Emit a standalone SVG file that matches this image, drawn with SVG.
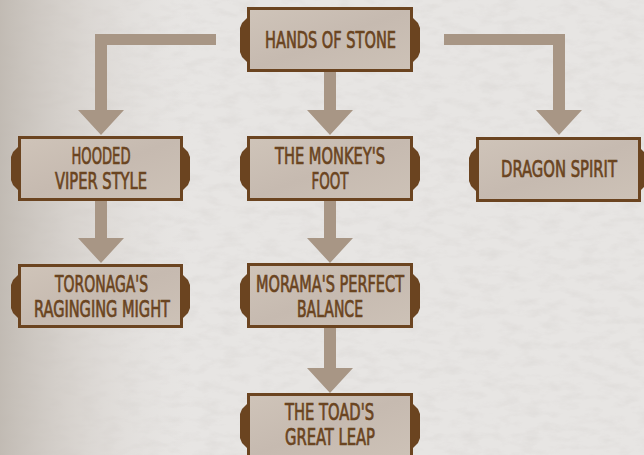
<svg xmlns="http://www.w3.org/2000/svg" width="644" height="455" viewBox="0 0 644 455">
  <defs>
    <linearGradient id="bgl" x1="0" y1="0" x2="1" y2="0">
      <stop offset="0" stop-color="#bdb6ae" stop-opacity="0.9"/>
      <stop offset="0.12" stop-color="#cfc9c3" stop-opacity="0.6"/>
      <stop offset="0.3" stop-color="#e2dfdc" stop-opacity="0"/>
    </linearGradient>
    <linearGradient id="boxg" x1="0" y1="0" x2="1" y2="1">
      <stop offset="0" stop-color="#cfc4b9"/>
      <stop offset="0.5" stop-color="#c6bab0"/>
      <stop offset="1" stop-color="#cdc2b7"/>
    </linearGradient>
    <filter id="noise" x="0" y="0" width="100%" height="100%">
      <feTurbulence type="fractalNoise" baseFrequency="0.05 0.12" numOctaves="4" seed="3"/>
      <feColorMatrix type="matrix" values="0 0 0 0 0.55  0 0 0 0 0.52  0 0 0 0 0.5  0 0 0 -1.3 0.75"/>
    </filter>
    <style>
      .box { fill: url(#boxg); stroke: #6b4420; stroke-width: 3; }
      .tab { fill: #6b4420; }
      .lbl { font-family: "DejaVu Sans Condensed", "DejaVu Sans", "Liberation Sans", sans-serif; font-weight: normal; font-size: 23px; fill: #6a4420; stroke: #6a4420; stroke-width: 0.7; text-anchor: middle; }
      .arrow { fill: #a89685; }
    </style>
  </defs>

  <rect x="0" y="0" width="644" height="455" fill="#e7e5e3"/>
  <rect x="0" y="0" width="644" height="455" filter="url(#noise)" opacity="0.3"/>
  <rect x="0" y="0" width="644" height="455" fill="url(#bgl)"/>

  <g id="connectors">
    <path class="arrow" d="M216,34 H95 V110 H78 L101,135 L124,110 H107 V45 H216 Z"/>
    <path class="arrow" d="M444,34 H565 V110 H582 L559,135 L536,110 H553 V45 H444 Z"/>
    <path class="arrow" d="M324,72 H336 V110 H353 L330,135 L307,110 H324 Z"/>
    <path class="arrow" d="M95,200 H107 V238 H124 L101,263 L78,238 H95 Z"/>
    <path class="arrow" d="M324,200 H336 V238 H353 L330,263 L307,238 H324 Z"/>
    <path class="arrow" d="M324,328 H336 V368 H353 L330,393 L307,368 H324 Z"/>
  </g>

  <g id="hands-of-stone">
    <polygon class="tab" points="247,18 242,23 240,28 240,52 242,57 247,62"/>
    <polygon class="tab" points="413,18 418,23 420,28 420,52 418,57 413,62"/>
    <rect class="box" x="248.5" y="8.5" width="163" height="62"/>
    <text class="lbl" x="330.5" y="48" textLength="131" lengthAdjust="spacingAndGlyphs">HANDS OF STONE</text>
  </g>

  <g id="hooded-viper-style">
    <polygon class="tab" points="18,147 13,152 11,157 11,180 13,185 18,190"/>
    <polygon class="tab" points="183,147 188,152 190,157 190,180 188,185 183,190"/>
    <rect class="box" x="19.5" y="137.5" width="162" height="62"/>
    <text class="lbl" x="101" y="164" textLength="59" lengthAdjust="spacingAndGlyphs">HOODED</text>
    <text class="lbl" x="101" y="189" textLength="92" lengthAdjust="spacingAndGlyphs">VIPER STYLE</text>
  </g>

  <g id="the-monkeys-foot">
    <polygon class="tab" points="247,147 242,152 240,157 240,180 242,185 247,190"/>
    <polygon class="tab" points="413,147 418,152 420,157 420,180 418,185 413,190"/>
    <rect class="box" x="248.5" y="137.5" width="163" height="62"/>
    <text class="lbl" x="330" y="164" textLength="110" lengthAdjust="spacingAndGlyphs">THE MONKEY'S</text>
    <text class="lbl" x="330" y="189" textLength="37" lengthAdjust="spacingAndGlyphs">FOOT</text>
  </g>

  <g id="dragon-spirit">
    <polygon class="tab" points="476,148 471,153 469,158 469,181 471,186 476,191"/>
    <polygon class="tab" points="640,148 644,152 644,187 640,191"/>
    <rect class="box" x="477.5" y="138.5" width="162" height="62"/>
    <text class="lbl" x="617" y="177" style="text-anchor:end" textLength="116" lengthAdjust="spacingAndGlyphs">DRAGON SPIRIT</text>
  </g>

  <g id="toronagas-raginging-might">
    <polygon class="tab" points="18,275 13,280 11,285 11,308 13,313 18,318"/>
    <polygon class="tab" points="183,275 188,280 190,285 190,308 188,313 183,318"/>
    <rect class="box" x="19.5" y="265.5" width="162" height="61"/>
    <text class="lbl" x="101.5" y="292" textLength="93" lengthAdjust="spacingAndGlyphs">TORONAGA'S</text>
    <text class="lbl" x="102" y="317" textLength="136" lengthAdjust="spacingAndGlyphs">RAGINGING MIGHT</text>
  </g>

  <g id="moramas-perfect-balance">
    <polygon class="tab" points="247,274 242,279 240,284 240,308 242,313 247,318"/>
    <polygon class="tab" points="413,274 418,279 420,284 420,308 418,313 413,318"/>
    <rect class="box" x="248.5" y="264.5" width="163" height="62"/>
    <text class="lbl" x="330" y="292" textLength="148" lengthAdjust="spacingAndGlyphs">MORAMA'S PERFECT</text>
    <text class="lbl" x="330" y="317" textLength="66" lengthAdjust="spacingAndGlyphs">BALANCE</text>
  </g>

  <g id="the-toads-great-leap">
    <polygon class="tab" points="247,404 242,409 240,414 240,438 242,443 247,448"/>
    <polygon class="tab" points="413,404 418,409 420,414 420,438 418,443 413,448"/>
    <rect class="box" x="248.5" y="394.5" width="163" height="62"/>
    <text class="lbl" x="329.5" y="420" textLength="89" lengthAdjust="spacingAndGlyphs">THE TOAD'S</text>
    <text class="lbl" x="330" y="445" textLength="90" lengthAdjust="spacingAndGlyphs">GREAT LEAP</text>
  </g>
</svg>
